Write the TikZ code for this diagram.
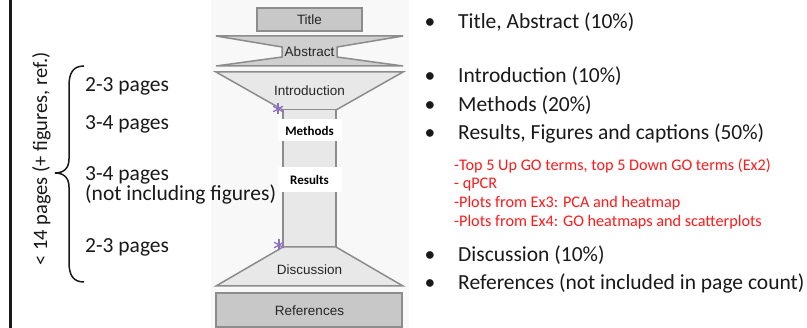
\documentclass[tikz,border=0pt]{standalone}
\usepackage{fontspec}
\setmainfont{Carlito}
\newfontfamily\arialf{Liberation Sans}
\definecolor{shapeline}{HTML}{8C8C8C}
\definecolor{darkfill}{HTML}{C8C8C8}
\definecolor{midfill}{HTML}{CFCFCF}
\definecolor{lightfill}{HTML}{E8E8E8}
\definecolor{panel}{HTML}{F8F8F8}
\definecolor{starc}{HTML}{8E6FC4}
\definecolor{redtext}{HTML}{FF1A1A}
\begin{document}
\begin{tikzpicture}[x=1pt,y=-1pt,
  shp/.style={draw=shapeline, line width=1.5pt, line join=miter},
  dlabel/.style={font=\arialf\fontsize{13.5}{15}\selectfont, inner sep=0pt, text=black!85},
  blabel/.style={font=\bfseries\fontsize{13}{15}\selectfont, fill=white, inner sep=0pt, minimum width=64pt},
  bigtext/.style={font=\fontsize{21.5}{24}\selectfont, inner sep=0pt, anchor=base west, text=black!90},
  bul/.style={font=\fontsize{21.5}{24}\selectfont, inner sep=0pt, anchor=base, text=black!90},
  redline/.style={font=\fontsize{16.2}{18}\selectfont, inner sep=0pt, anchor=base west, text=redtext},
  starline/.style={draw=starc, line width=1.3pt}]
\useasboundingbox (0,0) rectangle (807,328);
\fill[white] (0,0) rectangle (807,328);
\fill[panel] (211,0) rectangle (409,328);
\draw[line width=2.5pt, black!90] (10.5,0) -- (10.5,328);

% diagram
\draw[shp, fill=darkfill] (257,8) rectangle (362,31);
\node[dlabel] (title) at (309.5,20) {Title};

\draw[shp, fill=midfill] (216,36) -- (403,36) -- (337,47) -- (337,57) -- (403,66) -- (216,66) -- (282,57) -- (282,47) -- cycle;
\node[dlabel] (abstract) at (309.5,52) {Abstract};

\draw[shp, fill=lightfill] (216,72) -- (403,72) -- (336,110) -- (283,110) -- cycle;
\node[dlabel] (intro) at (309.5,91) {Introduction};

\fill[lightfill] (283,110) rectangle (336,247);
\draw[shp] (283,110) -- (283,247);
\draw[shp] (336,110) -- (336,247);

\draw[shp, fill=lightfill] (283,247) -- (336,247) -- (403,286) -- (216,286) -- cycle;
\node[dlabel] (disc) at (309.5,270) {Discussion};

\draw[shp, fill=darkfill] (216,293) rectangle (402,327);
\node[dlabel] (refs) at (309.5,311) {References};

\node[blabel, minimum height=22pt] (methods) at (309.5,130.5) {Methods};
\node[blabel, minimum height=25pt] (results) at (309.5,179.5) {Results};

% stars
\coordinate (s1) at (278,109);
\coordinate (s2) at (279,245);
\foreach \s in {s1,s2}{
  \foreach \a in {90,30,150}{
    \draw[starline] ([shift={(\a:5.5)}]\s) -- ([shift={(\a+180:5.5)}]\s);
  }
}

% left side
\node[font=\fontsize{20.5}{24}\selectfont, inner sep=0pt, anchor=base, rotate=90, text=black!90] (total) at (47,159) {< 14 pages (+ figures, ref.)};
\draw[line width=1.5pt, black!90] (84,66) .. controls (73,66) and (69,73) .. (69,86) -- (69,159) .. controls (69,168) and (64,173) .. (55,173) .. controls (64,173) and (69,178) .. (69,187) -- (69,262) .. controls (69,275) and (73,282) .. (84,282);

\node[bigtext] (l1) at (85,92) {2-3 pages};
\node[bigtext] (l2) at (85,130) {3-4 pages};
\node[bigtext] (l3) at (85,180.5) {3-4 pages};
\node[bigtext] (l4) at (85,200.5) {(not including figures)};
\node[bigtext] (l5) at (85,253) {2-3 pages};

% right side
\node[bul] (b1) at (430,29) {•};
\node[bigtext] (r1) at (458,29) {Title, Abstract (10\%)};
\node[bul] (b2) at (430,83) {•};
\node[bigtext] (r2) at (458,83) {Introduction (10\%)};
\node[bul] (b3) at (430,112) {•};
\node[bigtext] (r3) at (458,112) {Methods (20\%)};
\node[bul] (b4) at (430,140) {•};
\node[bigtext] (r4) at (458,140) {Results, Figures and captions (50\%)};

\node[redline] (red1) at (454,171) {-Top 5 Up GO terms, top 5 Down GO terms (Ex2)};
\node[redline] (red2) at (454,189) {- qPCR};
\node[redline] (red3) at (454,208) {-Plots from Ex3: PCA and heatmap};
\node[redline] (red4) at (454,227) {-Plots from Ex4: GO heatmaps and scatterplots};

\node[bul] (b5) at (430,262) {•};
\node[bigtext] (r5) at (458,262) {Discussion (10\%)};
\node[bul] (b6) at (430,290) {•};
\node[bigtext] (r6) at (458,290) {References (not included in page count)};
\end{tikzpicture}
\end{document}
